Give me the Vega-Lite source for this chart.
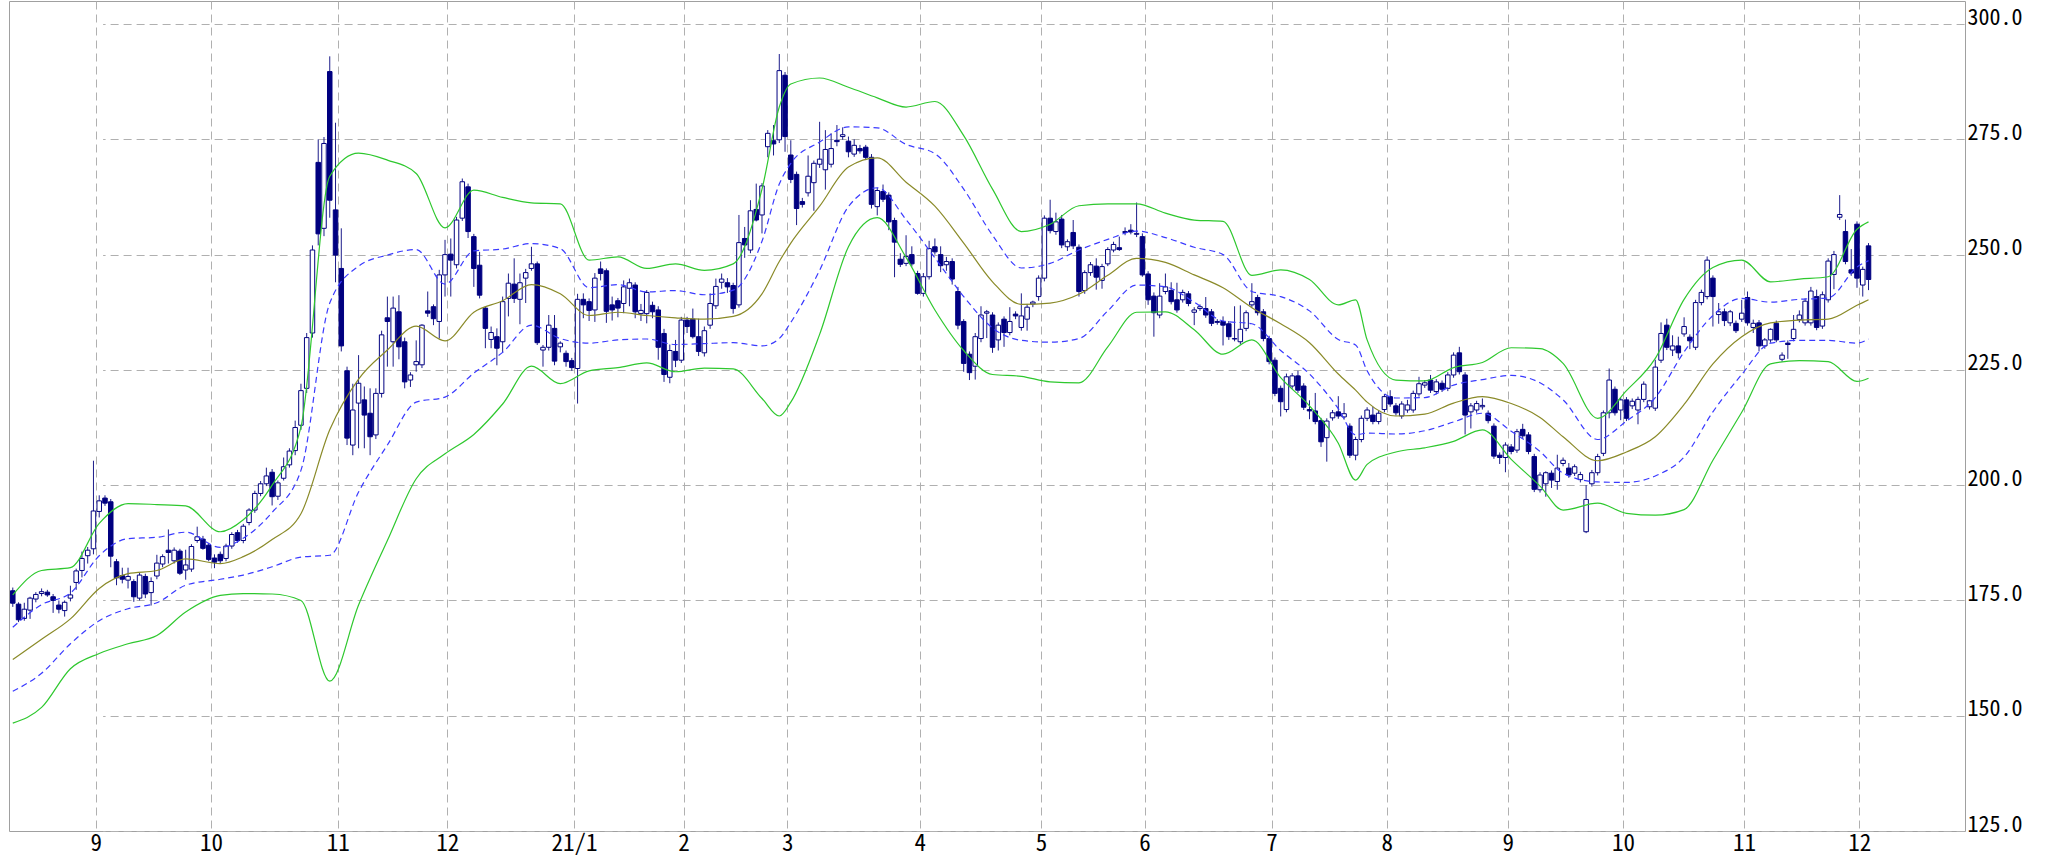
{
"$schema": "https://vega.github.io/schema/vega-lite/v6.json",
"width": 1956, "height": 830,
"autosize": {"type": "none"},
"padding": {"left": 9, "top": 1, "right": 86, "bottom": 26},
"background": "white",
"config": {"view": {"stroke": "#a0a0a0", "strokeWidth": 1}},
"datasets": {
"candles": [
{"d":"2020-08-11","o":177.1,"h":177.8,"l":173.6,"c":174.4},
{"d":"2020-08-12","o":174.2,"h":174.6,"l":170.3,"c":170.8},
{"d":"2020-08-13","o":171.1,"h":174.5,"l":170.6,"c":173.1},
{"d":"2020-08-14","o":172.9,"h":175.8,"l":171.0,"c":175.5},
{"d":"2020-08-17","o":175.3,"h":176.8,"l":174.6,"c":176.3},
{"d":"2020-08-18","o":176.5,"h":177.6,"l":175.9,"c":176.9},
{"d":"2020-08-19","o":176.8,"h":177.3,"l":175.8,"c":176.2},
{"d":"2020-08-20","o":175.8,"h":176.4,"l":172.3,"c":175.0},
{"d":"2020-08-21","o":174.0,"h":175.0,"l":172.2,"c":173.1},
{"d":"2020-08-24","o":172.8,"h":175.0,"l":171.5,"c":174.6},
{"d":"2020-08-25","o":175.5,"h":178.2,"l":174.8,"c":176.2},
{"d":"2020-08-26","o":178.9,"h":181.9,"l":177.3,"c":181.4},
{"d":"2020-08-27","o":181.5,"h":185.6,"l":180.0,"c":184.1},
{"d":"2020-08-28","o":184.7,"h":186.6,"l":183.0,"c":185.9},
{"d":"2020-08-31","o":186.2,"h":205.3,"l":185.0,"c":194.4},
{"d":"2020-09-01","o":194.3,"h":197.8,"l":193.0,"c":196.6},
{"d":"2020-09-02","o":197.2,"h":197.8,"l":195.5,"c":196.1},
{"d":"2020-09-03","o":196.4,"h":197.0,"l":182.2,"c":184.6},
{"d":"2020-09-04","o":183.4,"h":184.0,"l":178.3,"c":179.9},
{"d":"2020-09-07","o":180.4,"h":182.1,"l":178.7,"c":179.6},
{"d":"2020-09-08","o":179.4,"h":182.1,"l":177.6,"c":180.2},
{"d":"2020-09-09","o":179.1,"h":179.6,"l":174.7,"c":175.8},
{"d":"2020-09-10","o":175.5,"h":181.0,"l":175.0,"c":180.5},
{"d":"2020-09-11","o":180.2,"h":180.8,"l":175.5,"c":176.4},
{"d":"2020-09-14","o":176.7,"h":180.0,"l":173.9,"c":179.1},
{"d":"2020-09-15","o":180.3,"h":184.9,"l":179.6,"c":183.1},
{"d":"2020-09-16","o":182.9,"h":185.0,"l":182.2,"c":184.5},
{"d":"2020-09-17","o":185.9,"h":190.4,"l":183.0,"c":185.4},
{"d":"2020-09-18","o":183.6,"h":186.5,"l":183.0,"c":185.9},
{"d":"2020-09-23","o":185.7,"h":186.2,"l":180.5,"c":180.9},
{"d":"2020-09-24","o":181.6,"h":186.0,"l":179.5,"c":182.7},
{"d":"2020-09-25","o":181.8,"h":187.2,"l":181.2,"c":186.7},
{"d":"2020-09-28","o":188.0,"h":191.0,"l":187.5,"c":188.8},
{"d":"2020-09-29","o":188.3,"h":189.0,"l":186.0,"c":186.3},
{"d":"2020-09-30","o":187.0,"h":187.5,"l":183.5,"c":183.9},
{"d":"2020-10-01","o":184.2,"h":185.0,"l":182.0,"c":183.3},
{"d":"2020-10-02","o":185.0,"h":185.6,"l":183.0,"c":183.6},
{"d":"2020-10-05","o":184.1,"h":187.3,"l":183.5,"c":186.8},
{"d":"2020-10-06","o":186.8,"h":189.8,"l":186.2,"c":189.3},
{"d":"2020-10-07","o":189.7,"h":190.3,"l":187.5,"c":188.0},
{"d":"2020-10-08","o":188.0,"h":191.6,"l":187.4,"c":191.1},
{"d":"2020-10-09","o":191.9,"h":195.0,"l":191.3,"c":194.6},
{"d":"2020-10-12","o":194.6,"h":198.8,"l":194.0,"c":198.2},
{"d":"2020-10-13","o":198.2,"h":200.9,"l":197.6,"c":200.3},
{"d":"2020-10-14","o":200.3,"h":203.8,"l":199.8,"c":202.0},
{"d":"2020-10-15","o":202.8,"h":203.5,"l":195.6,"c":197.5},
{"d":"2020-10-16","o":197.6,"h":201.0,"l":196.8,"c":200.5},
{"d":"2020-10-19","o":201.5,"h":206.0,"l":201.0,"c":204.0},
{"d":"2020-10-20","o":204.4,"h":208.0,"l":203.8,"c":207.4},
{"d":"2020-10-21","o":207.5,"h":214.0,"l":206.5,"c":212.5},
{"d":"2020-10-22","o":213.0,"h":222.0,"l":212.0,"c":220.5},
{"d":"2020-10-23","o":221.0,"h":233.0,"l":220.0,"c":232.0},
{"d":"2020-10-26","o":233.0,"h":252.0,"l":232.0,"c":251.0},
{"d":"2020-10-27","o":270.0,"h":275.0,"l":252.0,"c":254.5},
{"d":"2020-10-28","o":255.7,"h":275.5,"l":254.0,"c":274.1},
{"d":"2020-10-29","o":289.7,"h":293.0,"l":258.0,"c":261.8},
{"d":"2020-10-30","o":259.7,"h":278.6,"l":244.0,"c":249.9},
{"d":"2020-11-02","o":247.0,"h":255.7,"l":229.0,"c":230.2},
{"d":"2020-11-04","o":224.8,"h":225.7,"l":208.7,"c":210.2},
{"d":"2020-11-05","o":208.7,"h":222.0,"l":206.5,"c":216.3},
{"d":"2020-11-06","o":217.8,"h":228.2,"l":208.0,"c":222.1},
{"d":"2020-11-09","o":218.5,"h":221.4,"l":208.0,"c":215.2},
{"d":"2020-11-10","o":215.6,"h":221.0,"l":206.5,"c":210.5},
{"d":"2020-11-11","o":210.9,"h":221.0,"l":210.0,"c":219.9},
{"d":"2020-11-12","o":219.9,"h":233.5,"l":219.0,"c":232.6},
{"d":"2020-11-13","o":236.3,"h":240.9,"l":225.7,"c":235.5},
{"d":"2020-11-16","o":231.1,"h":240.9,"l":225.7,"c":238.4},
{"d":"2020-11-17","o":237.6,"h":241.2,"l":227.3,"c":230.0},
{"d":"2020-11-18","o":231.1,"h":232.0,"l":221.0,"c":222.4},
{"d":"2020-11-19","o":222.8,"h":224.5,"l":221.3,"c":223.9},
{"d":"2020-11-20","o":226.1,"h":231.4,"l":224.6,"c":226.8},
{"d":"2020-11-24","o":226.1,"h":234.9,"l":225.4,"c":234.7},
{"d":"2020-11-25","o":237.8,"h":242.0,"l":236.5,"c":237.3},
{"d":"2020-11-26","o":238.7,"h":239.2,"l":234.7,"c":236.1},
{"d":"2020-11-27","o":235.5,"h":246.7,"l":231.8,"c":245.6},
{"d":"2020-11-30","o":245.6,"h":253.2,"l":240.9,"c":250.0},
{"d":"2020-12-01","o":250.1,"h":253.5,"l":240.9,"c":248.8},
{"d":"2020-12-02","o":247.8,"h":258.2,"l":247.0,"c":257.5},
{"d":"2020-12-03","o":257.9,"h":266.5,"l":257.3,"c":265.8},
{"d":"2020-12-04","o":264.7,"h":265.4,"l":253.6,"c":255.0},
{"d":"2020-12-07","o":253.9,"h":254.5,"l":243.0,"c":247.0},
{"d":"2020-12-08","o":247.7,"h":250.6,"l":240.5,"c":241.2},
{"d":"2020-12-09","o":238.4,"h":238.8,"l":229.7,"c":234.0},
{"d":"2020-12-10","o":231.6,"h":234.4,"l":229.7,"c":233.1},
{"d":"2020-12-11","o":232.2,"h":234.0,"l":226.0,"c":229.7},
{"d":"2020-12-14","o":231.1,"h":240.9,"l":228.8,"c":239.8},
{"d":"2020-12-15","o":240.5,"h":245.9,"l":236.6,"c":243.8},
{"d":"2020-12-16","o":243.6,"h":249.2,"l":239.5,"c":240.5},
{"d":"2020-12-17","o":240.3,"h":245.9,"l":234.9,"c":243.9},
{"d":"2020-12-18","o":244.9,"h":246.9,"l":239.5,"c":246.1},
{"d":"2020-12-21","o":247.0,"h":251.7,"l":246.5,"c":248.0},
{"d":"2020-12-22","o":248.0,"h":248.5,"l":230.4,"c":230.9},
{"d":"2020-12-23","o":229.3,"h":230.4,"l":225.7,"c":229.9},
{"d":"2020-12-24","o":229.9,"h":236.9,"l":229.2,"c":234.7},
{"d":"2020-12-25","o":234.0,"h":236.9,"l":226.0,"c":226.9},
{"d":"2020-12-28","o":230.0,"h":231.2,"l":228.8,"c":230.8},
{"d":"2020-12-29","o":228.6,"h":229.2,"l":225.7,"c":226.8},
{"d":"2020-12-30","o":227.0,"h":227.6,"l":224.8,"c":225.5},
{"d":"2021-01-04","o":225.3,"h":241.5,"l":217.7,"c":240.3},
{"d":"2021-01-05","o":240.3,"h":241.6,"l":236.2,"c":239.1},
{"d":"2021-01-06","o":239.8,"h":240.5,"l":235.6,"c":237.9},
{"d":"2021-01-07","o":238.0,"h":246.0,"l":235.4,"c":244.9},
{"d":"2021-01-08","o":246.9,"h":248.5,"l":244.4,"c":245.9},
{"d":"2021-01-12","o":246.5,"h":247.0,"l":235.2,"c":237.7},
{"d":"2021-01-13","o":239.1,"h":240.9,"l":235.7,"c":238.0},
{"d":"2021-01-14","o":240.0,"h":240.6,"l":236.4,"c":238.4},
{"d":"2021-01-15","o":239.4,"h":244.4,"l":237.3,"c":243.0},
{"d":"2021-01-18","o":242.7,"h":244.8,"l":238.8,"c":243.9},
{"d":"2021-01-19","o":243.4,"h":244.0,"l":236.2,"c":237.6},
{"d":"2021-01-20","o":237.2,"h":239.3,"l":235.6,"c":237.9},
{"d":"2021-01-21","o":237.2,"h":242.3,"l":235.1,"c":241.8},
{"d":"2021-01-22","o":239.0,"h":239.8,"l":236.2,"c":237.6},
{"d":"2021-01-25","o":238.0,"h":238.8,"l":227.2,"c":229.9},
{"d":"2021-01-26","o":232.9,"h":233.9,"l":222.4,"c":224.0},
{"d":"2021-01-27","o":223.4,"h":230.5,"l":222.1,"c":229.2},
{"d":"2021-01-28","o":229.0,"h":231.5,"l":225.6,"c":227.1},
{"d":"2021-01-29","o":227.1,"h":236.5,"l":226.5,"c":235.8},
{"d":"2021-02-01","o":235.8,"h":236.5,"l":233.0,"c":234.4},
{"d":"2021-02-02","o":236.0,"h":238.3,"l":231.8,"c":232.2},
{"d":"2021-02-03","o":232.2,"h":236.1,"l":228.0,"c":229.0},
{"d":"2021-02-04","o":228.7,"h":234.4,"l":227.9,"c":233.5},
{"d":"2021-02-05","o":234.7,"h":241.6,"l":233.9,"c":239.4},
{"d":"2021-02-08","o":238.9,"h":244.8,"l":238.2,"c":243.1},
{"d":"2021-02-09","o":244.0,"h":245.9,"l":242.6,"c":244.7},
{"d":"2021-02-10","o":243.9,"h":244.9,"l":241.7,"c":243.0},
{"d":"2021-02-12","o":243.3,"h":243.9,"l":237.2,"c":238.3},
{"d":"2021-02-15","o":239.1,"h":258.6,"l":238.5,"c":252.6},
{"d":"2021-02-16","o":253.5,"h":256.0,"l":249.3,"c":252.1},
{"d":"2021-02-17","o":251.0,"h":261.8,"l":250.3,"c":259.5},
{"d":"2021-02-18","o":259.8,"h":265.4,"l":257.2,"c":257.5},
{"d":"2021-02-19","o":258.6,"h":265.5,"l":254.6,"c":264.9},
{"d":"2021-02-22","o":273.4,"h":277.0,"l":271.1,"c":276.3},
{"d":"2021-02-24","o":274.7,"h":278.1,"l":271.5,"c":274.0},
{"d":"2021-02-25","o":274.9,"h":293.5,"l":274.2,"c":289.9},
{"d":"2021-02-26","o":288.9,"h":289.6,"l":272.3,"c":275.6},
{"d":"2021-03-01","o":271.6,"h":274.8,"l":265.5,"c":266.3},
{"d":"2021-03-02","o":267.4,"h":268.0,"l":256.4,"c":260.0},
{"d":"2021-03-03","o":261.5,"h":262.3,"l":260.2,"c":260.9},
{"d":"2021-03-04","o":263.4,"h":271.5,"l":262.6,"c":267.0},
{"d":"2021-03-05","o":265.6,"h":270.4,"l":259.5,"c":269.8},
{"d":"2021-03-08","o":269.6,"h":278.8,"l":268.8,"c":270.7},
{"d":"2021-03-09","o":268.4,"h":277.0,"l":264.1,"c":272.8},
{"d":"2021-03-10","o":269.6,"h":276.3,"l":268.9,"c":273.0},
{"d":"2021-03-11","o":274.8,"h":278.1,"l":273.5,"c":274.5},
{"d":"2021-03-12","o":275.6,"h":277.6,"l":274.9,"c":276.0},
{"d":"2021-03-15","o":274.6,"h":275.6,"l":271.1,"c":272.3},
{"d":"2021-03-16","o":271.8,"h":275.0,"l":271.2,"c":273.7},
{"d":"2021-03-17","o":273.0,"h":273.8,"l":271.9,"c":272.5},
{"d":"2021-03-18","o":273.3,"h":273.8,"l":270.5,"c":271.1},
{"d":"2021-03-19","o":271.1,"h":271.8,"l":260.0,"c":260.9},
{"d":"2021-03-22","o":260.4,"h":264.5,"l":258.5,"c":263.9},
{"d":"2021-03-23","o":263.7,"h":265.2,"l":261.4,"c":262.0},
{"d":"2021-03-24","o":262.9,"h":263.5,"l":255.3,"c":257.1},
{"d":"2021-03-25","o":257.4,"h":258.0,"l":245.1,"c":252.7},
{"d":"2021-03-26","o":249.0,"h":250.3,"l":247.3,"c":247.9},
{"d":"2021-03-29","o":248.1,"h":254.2,"l":247.5,"c":249.6},
{"d":"2021-03-30","o":250.0,"h":251.8,"l":247.4,"c":248.0},
{"d":"2021-03-31","o":245.9,"h":246.5,"l":241.3,"c":241.6},
{"d":"2021-04-01","o":241.6,"h":246.0,"l":240.9,"c":245.2},
{"d":"2021-04-02","o":245.2,"h":253.0,"l":244.6,"c":251.3},
{"d":"2021-04-05","o":251.7,"h":253.5,"l":250.0,"c":250.6},
{"d":"2021-04-06","o":250.0,"h":251.8,"l":246.2,"c":247.6},
{"d":"2021-04-07","o":247.8,"h":249.5,"l":246.5,"c":248.5},
{"d":"2021-04-08","o":248.5,"h":249.2,"l":243.5,"c":244.7},
{"d":"2021-04-09","o":242.0,"h":243.0,"l":233.8,"c":234.7},
{"d":"2021-04-12","o":235.5,"h":236.0,"l":224.6,"c":226.4},
{"d":"2021-04-13","o":228.4,"h":229.0,"l":222.8,"c":224.4},
{"d":"2021-04-14","o":225.8,"h":233.0,"l":222.9,"c":232.2},
{"d":"2021-04-15","o":231.8,"h":238.8,"l":231.0,"c":236.9},
{"d":"2021-04-16","o":237.3,"h":238.0,"l":231.9,"c":237.6},
{"d":"2021-04-19","o":236.9,"h":237.5,"l":228.7,"c":229.9},
{"d":"2021-04-20","o":231.5,"h":235.3,"l":229.2,"c":234.7},
{"d":"2021-04-21","o":236.0,"h":236.6,"l":230.0,"c":233.1},
{"d":"2021-04-22","o":233.1,"h":238.6,"l":232.5,"c":235.5},
{"d":"2021-04-23","o":237.1,"h":237.7,"l":236.0,"c":236.7},
{"d":"2021-04-26","o":234.2,"h":241.6,"l":233.5,"c":236.7},
{"d":"2021-04-27","o":236.0,"h":239.3,"l":233.5,"c":238.6},
{"d":"2021-04-28","o":239.3,"h":240.0,"l":238.6,"c":239.7},
{"d":"2021-04-30","o":240.9,"h":245.5,"l":240.0,"c":244.9},
{"d":"2021-05-06","o":244.9,"h":258.5,"l":244.2,"c":257.9},
{"d":"2021-05-07","o":257.9,"h":261.9,"l":254.6,"c":255.2},
{"d":"2021-05-10","o":255.0,"h":259.1,"l":254.3,"c":257.1},
{"d":"2021-05-11","o":257.7,"h":258.6,"l":251.4,"c":252.1},
{"d":"2021-05-12","o":251.7,"h":253.3,"l":250.8,"c":252.8},
{"d":"2021-05-13","o":254.8,"h":257.5,"l":251.2,"c":251.9},
{"d":"2021-05-14","o":251.6,"h":252.2,"l":240.9,"c":242.0},
{"d":"2021-05-17","o":242.2,"h":246.6,"l":241.5,"c":246.1},
{"d":"2021-05-18","o":246.1,"h":248.4,"l":245.4,"c":247.8},
{"d":"2021-05-19","o":247.5,"h":249.2,"l":242.4,"c":245.1},
{"d":"2021-05-20","o":244.4,"h":248.0,"l":242.6,"c":247.4},
{"d":"2021-05-21","o":248.0,"h":251.6,"l":247.5,"c":251.1},
{"d":"2021-05-24","o":251.0,"h":252.8,"l":250.5,"c":252.2},
{"d":"2021-05-25","o":251.5,"h":253.9,"l":250.8,"c":251.1},
{"d":"2021-05-26","o":254.8,"h":255.9,"l":254.2,"c":255.0},
{"d":"2021-05-27","o":255.3,"h":256.6,"l":254.4,"c":254.9},
{"d":"2021-05-28","o":254.4,"h":261.3,"l":253.8,"c":254.6},
{"d":"2021-05-31","o":253.9,"h":254.6,"l":245.2,"c":245.6},
{"d":"2021-06-01","o":245.8,"h":246.4,"l":239.1,"c":240.2},
{"d":"2021-06-02","o":241.0,"h":241.8,"l":232.2,"c":237.4},
{"d":"2021-06-03","o":236.9,"h":243.8,"l":236.2,"c":241.0},
{"d":"2021-06-04","o":242.0,"h":245.9,"l":241.4,"c":243.0},
{"d":"2021-06-07","o":242.2,"h":244.0,"l":239.2,"c":239.8},
{"d":"2021-06-08","o":240.2,"h":243.9,"l":237.4,"c":238.0},
{"d":"2021-06-09","o":240.2,"h":242.4,"l":239.6,"c":241.8},
{"d":"2021-06-10","o":241.5,"h":242.1,"l":238.8,"c":239.4},
{"d":"2021-06-11","o":237.5,"h":238.6,"l":234.7,"c":238.0},
{"d":"2021-06-14","o":238.3,"h":239.2,"l":237.8,"c":238.7},
{"d":"2021-06-15","o":238.3,"h":240.8,"l":236.3,"c":236.9},
{"d":"2021-06-16","o":237.6,"h":238.2,"l":234.5,"c":235.1},
{"d":"2021-06-17","o":235.3,"h":236.0,"l":234.8,"c":235.5},
{"d":"2021-06-18","o":235.5,"h":236.6,"l":230.3,"c":234.7},
{"d":"2021-06-21","o":235.0,"h":235.6,"l":231.5,"c":232.2},
{"d":"2021-06-22","o":231.7,"h":238.8,"l":231.2,"c":231.8},
{"d":"2021-06-23","o":231.1,"h":239.0,"l":230.5,"c":233.8},
{"d":"2021-06-24","o":234.0,"h":237.9,"l":233.4,"c":237.4},
{"d":"2021-06-25","o":239.1,"h":243.8,"l":238.5,"c":239.8},
{"d":"2021-06-28","o":240.7,"h":241.3,"l":236.8,"c":237.4},
{"d":"2021-06-29","o":237.6,"h":238.2,"l":231.2,"c":231.8},
{"d":"2021-06-30","o":231.8,"h":232.4,"l":226.2,"c":226.8},
{"d":"2021-07-01","o":227.1,"h":227.7,"l":219.3,"c":219.9},
{"d":"2021-07-02","o":221.0,"h":221.6,"l":214.9,"c":218.1},
{"d":"2021-07-05","o":216.4,"h":224.2,"l":215.8,"c":223.5},
{"d":"2021-07-06","o":221.5,"h":224.3,"l":220.9,"c":223.7},
{"d":"2021-07-07","o":223.7,"h":224.8,"l":220.0,"c":220.6},
{"d":"2021-07-08","o":221.5,"h":222.1,"l":216.3,"c":216.9},
{"d":"2021-07-09","o":216.4,"h":218.4,"l":214.3,"c":216.1},
{"d":"2021-07-12","o":216.1,"h":220.0,"l":213.2,"c":213.8},
{"d":"2021-07-13","o":214.0,"h":214.6,"l":208.3,"c":209.4},
{"d":"2021-07-14","o":210.3,"h":214.5,"l":205.1,"c":213.9},
{"d":"2021-07-15","o":214.6,"h":216.3,"l":214.0,"c":215.7},
{"d":"2021-07-16","o":215.9,"h":219.3,"l":214.4,"c":215.0},
{"d":"2021-07-19","o":214.8,"h":217.8,"l":214.2,"c":215.5},
{"d":"2021-07-20","o":212.8,"h":213.4,"l":205.9,"c":206.5},
{"d":"2021-07-21","o":206.5,"h":210.5,"l":205.4,"c":209.9},
{"d":"2021-07-26","o":209.9,"h":215.1,"l":209.3,"c":214.5},
{"d":"2021-07-27","o":214.5,"h":216.9,"l":213.9,"c":216.3},
{"d":"2021-07-28","o":215.2,"h":217.0,"l":213.2,"c":213.8},
{"d":"2021-07-29","o":213.8,"h":216.2,"l":213.2,"c":215.6},
{"d":"2021-07-30","o":216.4,"h":219.8,"l":215.8,"c":219.2},
{"d":"2021-08-02","o":219.2,"h":220.6,"l":217.0,"c":217.6},
{"d":"2021-08-03","o":217.2,"h":217.8,"l":215.1,"c":215.7},
{"d":"2021-08-04","o":215.0,"h":218.2,"l":214.4,"c":217.6},
{"d":"2021-08-05","o":216.3,"h":218.5,"l":215.7,"c":217.4},
{"d":"2021-08-06","o":216.3,"h":220.5,"l":215.7,"c":219.9},
{"d":"2021-08-10","o":219.8,"h":223.5,"l":219.2,"c":222.0},
{"d":"2021-08-11","o":221.7,"h":222.8,"l":221.1,"c":222.2},
{"d":"2021-08-12","o":222.8,"h":223.9,"l":220.0,"c":220.6},
{"d":"2021-08-13","o":220.3,"h":223.0,"l":219.7,"c":222.4},
{"d":"2021-08-16","o":222.1,"h":222.7,"l":220.2,"c":220.8},
{"d":"2021-08-17","o":221.0,"h":224.5,"l":220.4,"c":223.9},
{"d":"2021-08-18","o":223.9,"h":228.8,"l":223.3,"c":228.2},
{"d":"2021-08-19","o":228.7,"h":230.0,"l":224.0,"c":224.6},
{"d":"2021-08-20","o":223.9,"h":224.5,"l":211.0,"c":215.2},
{"d":"2021-08-23","o":215.9,"h":217.8,"l":212.3,"c":217.2},
{"d":"2021-08-24","o":216.3,"h":218.3,"l":215.7,"c":217.7},
{"d":"2021-08-25","o":217.0,"h":218.8,"l":216.4,"c":217.3},
{"d":"2021-08-26","o":215.6,"h":216.2,"l":213.4,"c":214.0},
{"d":"2021-08-27","o":212.8,"h":213.4,"l":205.7,"c":206.3},
{"d":"2021-08-30","o":206.5,"h":207.1,"l":204.6,"c":206.0},
{"d":"2021-08-31","o":206.0,"h":209.3,"l":202.8,"c":208.7},
{"d":"2021-09-01","o":208.3,"h":208.9,"l":206.7,"c":207.3},
{"d":"2021-09-02","o":207.6,"h":212.2,"l":207.0,"c":211.6},
{"d":"2021-09-03","o":212.1,"h":213.3,"l":210.1,"c":210.7},
{"d":"2021-09-06","o":210.9,"h":211.5,"l":206.7,"c":207.3},
{"d":"2021-09-07","o":206.2,"h":206.8,"l":198.5,"c":199.1},
{"d":"2021-09-08","o":199.0,"h":202.8,"l":198.4,"c":202.2},
{"d":"2021-09-09","o":200.3,"h":203.0,"l":197.5,"c":202.7},
{"d":"2021-09-10","o":202.6,"h":203.2,"l":199.4,"c":201.1},
{"d":"2021-09-13","o":200.8,"h":206.6,"l":199.0,"c":203.7},
{"d":"2021-09-14","o":204.7,"h":206.0,"l":204.1,"c":205.4},
{"d":"2021-09-15","o":203.7,"h":204.8,"l":201.6,"c":202.2},
{"d":"2021-09-16","o":202.6,"h":204.5,"l":202.0,"c":204.0},
{"d":"2021-09-17","o":201.2,"h":202.9,"l":200.6,"c":202.3},
{"d":"2021-09-21","o":189.9,"h":200.0,"l":189.6,"c":196.9},
{"d":"2021-09-22","o":200.3,"h":203.3,"l":199.7,"c":202.7},
{"d":"2021-09-24","o":202.7,"h":206.8,"l":202.1,"c":206.2},
{"d":"2021-09-27","o":206.9,"h":216.2,"l":206.3,"c":215.7},
{"d":"2021-09-28","o":215.7,"h":225.3,"l":214.5,"c":222.8},
{"d":"2021-09-29","o":220.8,"h":221.4,"l":215.1,"c":215.7},
{"d":"2021-09-30","o":216.3,"h":219.0,"l":214.1,"c":218.5},
{"d":"2021-10-01","o":218.5,"h":219.1,"l":213.9,"c":214.5},
{"d":"2021-10-04","o":217.2,"h":218.8,"l":216.5,"c":218.2},
{"d":"2021-10-05","o":216.3,"h":219.2,"l":213.2,"c":218.6},
{"d":"2021-10-06","o":218.6,"h":222.5,"l":218.0,"c":221.9},
{"d":"2021-10-07","o":217.0,"h":218.5,"l":216.4,"c":218.3},
{"d":"2021-10-08","o":216.7,"h":227.2,"l":216.1,"c":225.6},
{"d":"2021-10-11","o":227.1,"h":235.3,"l":226.5,"c":232.9},
{"d":"2021-10-12","o":234.7,"h":236.1,"l":229.3,"c":229.9},
{"d":"2021-10-13","o":229.3,"h":232.5,"l":228.0,"c":230.2},
{"d":"2021-10-14","o":230.2,"h":232.2,"l":227.5,"c":228.7},
{"d":"2021-10-15","o":232.8,"h":236.4,"l":232.2,"c":234.4},
{"d":"2021-10-18","o":232.1,"h":232.7,"l":229.5,"c":231.3},
{"d":"2021-10-19","o":229.9,"h":240.2,"l":229.3,"c":239.6},
{"d":"2021-10-20","o":239.6,"h":242.4,"l":239.0,"c":241.8},
{"d":"2021-10-21","o":240.9,"h":249.6,"l":240.3,"c":248.8},
{"d":"2021-10-22","o":244.9,"h":245.5,"l":234.4,"c":240.9},
{"d":"2021-10-25","o":237.0,"h":239.5,"l":235.0,"c":237.6},
{"d":"2021-10-26","o":237.6,"h":238.3,"l":234.5,"c":235.7},
{"d":"2021-10-27","o":235.2,"h":238.0,"l":234.5,"c":237.6},
{"d":"2021-10-28","o":235.1,"h":235.7,"l":233.0,"c":233.5},
{"d":"2021-10-29","o":236.0,"h":240.2,"l":235.4,"c":237.3},
{"d":"2021-11-01","o":240.7,"h":242.0,"l":234.6,"c":235.2},
{"d":"2021-11-02","o":234.2,"h":235.9,"l":233.0,"c":235.1},
{"d":"2021-11-04","o":235.2,"h":235.8,"l":229.0,"c":230.2},
{"d":"2021-11-05","o":230.2,"h":231.9,"l":229.6,"c":231.5},
{"d":"2021-11-08","o":231.5,"h":234.0,"l":230.9,"c":233.8},
{"d":"2021-11-09","o":235.1,"h":235.7,"l":231.0,"c":231.5},
{"d":"2021-11-10","o":227.3,"h":228.8,"l":226.8,"c":228.2},
{"d":"2021-11-11","o":230.8,"h":231.4,"l":227.4,"c":230.5},
{"d":"2021-11-12","o":231.8,"h":236.9,"l":231.2,"c":233.8},
{"d":"2021-11-15","o":235.9,"h":237.9,"l":235.3,"c":236.9},
{"d":"2021-11-16","o":235.2,"h":240.5,"l":234.6,"c":239.9},
{"d":"2021-11-17","o":235.2,"h":243.0,"l":234.6,"c":242.1},
{"d":"2021-11-18","o":240.9,"h":242.4,"l":233.6,"c":234.2},
{"d":"2021-11-19","o":234.5,"h":242.0,"l":233.9,"c":241.3},
{"d":"2021-11-22","o":240.2,"h":249.2,"l":239.6,"c":248.6},
{"d":"2021-11-24","o":245.7,"h":250.8,"l":242.5,"c":250.0},
{"d":"2021-11-25","o":258.1,"h":262.9,"l":257.5,"c":258.7},
{"d":"2021-11-26","o":255.0,"h":257.6,"l":247.9,"c":248.5},
{"d":"2021-11-29","o":246.7,"h":251.2,"l":245.4,"c":246.0},
{"d":"2021-11-30","o":256.6,"h":257.2,"l":242.8,"c":244.9},
{"d":"2021-12-01","o":243.4,"h":247.4,"l":240.9,"c":246.8},
{"d":"2021-12-02","o":251.9,"h":252.5,"l":242.3,"c":244.6}
],
"bands": [
{"d":"2020-08-11","m":162.2,"u1":169.2,"l1":155.3,"u2":176.2,"l2":148.4},
{"d":"2020-08-18","m":166.6,"u1":174.1,"l1":159.2,"u2":181.5,"l2":151.8},
{"d":"2020-08-25","m":171.0,"u1":176.6,"l1":165.6,"u2":182.1,"l2":160.2},
{"d":"2020-09-01","m":177.6,"u1":184.7,"l1":170.6,"u2":191.7,"l2":163.5},
{"d":"2020-09-08","m":180.8,"u1":188.4,"l1":173.2,"u2":196.0,"l2":165.6},
{"d":"2020-09-15","m":181.5,"u1":188.7,"l1":174.5,"u2":195.8,"l2":167.4},
{"d":"2020-09-24","m":184.0,"u1":189.8,"l1":178.3,"u2":195.5,"l2":172.5},
{"d":"2020-10-02","m":183.0,"u1":186.5,"l1":179.6,"u2":189.9,"l2":176.1},
{"d":"2020-10-08","m":184.5,"u1":188.5,"l1":180.5,"u2":192.5,"l2":176.5},
{"d":"2020-10-15","m":188.2,"u1":194.1,"l1":182.3,"u2":200.0,"l2":176.4},
{"d":"2020-10-22","m":193.8,"u1":203.2,"l1":184.4,"u2":212.6,"l2":175.0},
{"d":"2020-10-29","m":212.0,"u1":239.5,"l1":184.8,"u2":267.0,"l2":157.5},
{"d":"2020-11-06","m":223.0,"u1":247.5,"l1":198.5,"u2":272.0,"l2":174.0},
{"d":"2020-11-13","m":229.3,"u1":249.9,"l1":208.7,"u2":270.5,"l2":188.0},
{"d":"2020-11-20","m":234.5,"u1":251.1,"l1":218.0,"u2":267.6,"l2":201.4},
{"d":"2020-11-30","m":231.3,"u1":243.6,"l1":219.1,"u2":255.8,"l2":206.8},
{"d":"2020-12-07","m":237.5,"u1":250.8,"l1":224.3,"u2":264.0,"l2":211.0},
{"d":"2020-12-14","m":240.0,"u1":251.2,"l1":228.8,"u2":262.4,"l2":217.6},
{"d":"2020-12-21","m":243.5,"u1":252.4,"l1":234.7,"u2":261.2,"l2":225.8},
{"d":"2020-12-28","m":241.5,"u1":251.3,"l1":231.8,"u2":261.0,"l2":222.0},
{"d":"2021-01-06","m":236.8,"u1":242.8,"l1":230.8,"u2":248.8,"l2":224.8},
{"d":"2021-01-14","m":237.5,"u1":243.5,"l1":231.5,"u2":249.5,"l2":225.5},
{"d":"2021-01-21","m":236.8,"u1":241.9,"l1":231.7,"u2":247.0,"l2":226.5},
{"d":"2021-01-28","m":236.3,"u1":242.2,"l1":230.5,"u2":248.0,"l2":224.6},
{"d":"2021-02-04","m":236.0,"u1":241.3,"l1":230.7,"u2":246.6,"l2":225.4},
{"d":"2021-02-12","m":236.6,"u1":242.3,"l1":230.9,"u2":248.0,"l2":225.2},
{"d":"2021-02-19","m":241.5,"u1":252.9,"l1":230.2,"u2":264.2,"l2":218.8},
{"d":"2021-02-25","m":248.5,"u1":265.3,"l1":231.8,"u2":282.0,"l2":215.0},
{"d":"2021-03-01","m":252.5,"u1":269.8,"l1":235.3,"u2":287.0,"l2":218.0},
{"d":"2021-03-08","m":260.5,"u1":274.4,"l1":246.6,"u2":288.3,"l2":232.7},
{"d":"2021-03-15","m":269.0,"u1":277.7,"l1":260.4,"u2":286.3,"l2":251.7},
{"d":"2021-03-22","m":271.0,"u1":277.5,"l1":264.5,"u2":284.0,"l2":258.0},
{"d":"2021-03-29","m":265.7,"u1":273.9,"l1":257.6,"u2":282.0,"l2":249.4},
{"d":"2021-04-05","m":260.5,"u1":271.9,"l1":249.3,"u2":283.2,"l2":238.0},
{"d":"2021-04-12","m":252.5,"u1":264.2,"l1":240.9,"u2":275.8,"l2":229.2},
{"d":"2021-04-19","m":244.1,"u1":254.2,"l1":234.1,"u2":264.2,"l2":224.0},
{"d":"2021-04-26","m":239.2,"u1":247.1,"l1":231.4,"u2":255.0,"l2":223.6},
{"d":"2021-05-07","m":239.5,"u1":248.1,"l1":231.0,"u2":256.6,"l2":222.4},
{"d":"2021-05-14","m":241.4,"u1":251.0,"l1":231.8,"u2":260.6,"l2":222.2},
{"d":"2021-05-21","m":245.5,"u1":253.3,"l1":237.8,"u2":261.0,"l2":230.0},
{"d":"2021-05-28","m":249.2,"u1":255.1,"l1":243.4,"u2":261.0,"l2":237.5},
{"d":"2021-06-04","m":248.3,"u1":253.7,"l1":243.0,"u2":259.0,"l2":237.6},
{"d":"2021-06-11","m":245.6,"u1":251.6,"l1":239.7,"u2":257.5,"l2":233.7},
{"d":"2021-06-18","m":242.8,"u1":250.0,"l1":235.6,"u2":257.2,"l2":228.4},
{"d":"2021-06-25","m":238.5,"u1":242.0,"l1":235.0,"u2":245.5,"l2":231.5},
{"d":"2021-07-02","m":235.0,"u1":240.9,"l1":229.2,"u2":246.7,"l2":223.3},
{"d":"2021-07-09","m":230.9,"u1":237.8,"l1":224.1,"u2":244.6,"l2":217.2},
{"d":"2021-07-16","m":224.1,"u1":231.6,"l1":216.6,"u2":239.1,"l2":209.1},
{"d":"2021-07-21","m":220.6,"u1":230.4,"l1":210.9,"u2":240.2,"l2":201.1},
{"d":"2021-07-27","m":218.0,"u1":224.8,"l1":211.3,"u2":231.5,"l2":204.5},
{"d":"2021-08-03","m":215.0,"u1":218.9,"l1":211.1,"u2":222.8,"l2":207.2},
{"d":"2021-08-11","m":215.4,"u1":219.0,"l1":211.8,"u2":222.6,"l2":208.1},
{"d":"2021-08-18","m":217.8,"u1":221.7,"l1":213.7,"u2":225.5,"l2":209.5},
{"d":"2021-08-25","m":219.2,"u1":222.9,"l1":215.6,"u2":226.6,"l2":212.0},
{"d":"2021-09-01","m":217.7,"u1":223.8,"l1":211.7,"u2":229.8,"l2":205.6},
{"d":"2021-09-08","m":214.7,"u1":222.2,"l1":207.3,"u2":229.6,"l2":199.8},
{"d":"2021-09-14","m":210.5,"u1":218.5,"l1":202.6,"u2":226.4,"l2":194.6},
{"d":"2021-09-24","m":205.3,"u1":209.9,"l1":200.7,"u2":214.5,"l2":196.1},
{"d":"2021-10-01","m":207.2,"u1":213.9,"l1":200.6,"u2":220.5,"l2":193.9},
{"d":"2021-10-08","m":210.5,"u1":219.0,"l1":202.0,"u2":227.5,"l2":193.5},
{"d":"2021-10-15","m":217.5,"u1":228.9,"l1":206.1,"u2":240.3,"l2":194.7},
{"d":"2021-10-22","m":226.3,"u1":236.8,"l1":215.9,"u2":247.2,"l2":205.4},
{"d":"2021-10-29","m":232.2,"u1":240.5,"l1":224.0,"u2":248.8,"l2":215.8},
{"d":"2021-11-08","m":235.2,"u1":239.7,"l1":230.8,"u2":244.1,"l2":226.3},
{"d":"2021-11-15","m":235.8,"u1":240.3,"l1":231.4,"u2":244.7,"l2":227.0},
{"d":"2021-11-22","m":236.0,"u1":240.6,"l1":231.4,"u2":245.2,"l2":226.8},
{"d":"2021-11-30","m":239.0,"u1":247.3,"l1":230.8,"u2":255.5,"l2":222.5},
{"d":"2021-12-02","m":240.2,"u1":248.7,"l1":231.7,"u2":257.1,"l2":223.2}
]
},
"encoding": {
"x": {"field": "d", "type": "ordinal", "sort": "ascending",
 "scale": {"type": "band", "paddingInner": 0, "paddingOuter": 0, "range": [0.9, 1862.4], "round": false},
 "axis": {"title": null, "values": ["2020-09-01","2020-10-01","2020-11-02","2020-12-01","2021-01-04","2021-02-01","2021-03-01","2021-04-01","2021-05-06","2021-06-01","2021-07-01","2021-08-02","2021-09-01","2021-10-01","2021-11-01","2021-12-01"],
  "labelExpr": "datum.value == '2021-01-04' ? '21/1' : '' + toNumber(slice(datum.value, 5, 7))",
  "labelAngle": 0, "labelFont": "Noto Sans Mono CJK JP, Noto Sans CJK JP, sans-serif", "labelFontSize": 23, "labelColor": "#000000",
  "labelPadding": 1, "labelOffset": -3, "labelOverlap": false, "labelBaseline": "top",
  "domain": false, "ticks": false, "grid": true, "gridColor": "#b0b0b0", "gridDash": [8, 5], "gridWidth": 1, "bandPosition": 0}},
"y": {"type": "quantitative", "scale": {"domain": [125, 305], "nice": false, "zero": false},
   "axis": {"title": null, "orient": "right", "values": [125,150,175,200,225,250,275,300], "format": ".1f",
    "labelFont": "Noto Sans Mono CJK JP, Noto Sans CJK JP, sans-serif", "labelFontSize": 22, "labelColor": "#000000",
    "labelBaseline": "alphabetic", "labelAlign": "left", "labelPadding": 2, "labelFlush": false, "labelOverlap": false,
    "domain": false, "ticks": false, "grid": true, "gridColor": "#b0b0b0", "gridDash": [8, 5], "gridWidth": 1}}
},
"layer": [
{"data": {"name": "candles"}, "mark": {"type": "rule", "color": "#1c1c8a", "strokeWidth": 1},
 "encoding": {"y": {"field": "l", "type": "quantitative", "title": null}, "y2": {"field": "h"}}},
{"data": {"name": "candles"}, "mark": {"type": "bar", "width": 4.5, "stroke": "#000080", "strokeWidth": 1},
 "encoding": {"y": {"field": "o", "type": "quantitative", "title": null}, "y2": {"field": "c"},
  "fill": {"condition": {"test": "datum.c < datum.o", "value": "#000080"}, "value": "#ffffff"}}},
{"data": {"name": "bands"}, "mark": {"type": "line", "color": "#2ec82e", "strokeWidth": 1.2, "interpolate": "monotone"},
 "encoding": {"y": {"field": "u2", "type": "quantitative", "title": null}}},
{"data": {"name": "bands"}, "mark": {"type": "line", "color": "#2ec82e", "strokeWidth": 1.2, "interpolate": "monotone"},
 "encoding": {"y": {"field": "l2", "type": "quantitative", "title": null}}},
{"data": {"name": "bands"}, "mark": {"type": "line", "color": "#3a3aff", "strokeWidth": 1.2, "strokeDash": [6, 4], "interpolate": "monotone"},
 "encoding": {"y": {"field": "u1", "type": "quantitative", "title": null}}},
{"data": {"name": "bands"}, "mark": {"type": "line", "color": "#3a3aff", "strokeWidth": 1.2, "strokeDash": [6, 4], "interpolate": "monotone"},
 "encoding": {"y": {"field": "l1", "type": "quantitative", "title": null}}},
{"data": {"name": "bands"}, "mark": {"type": "line", "color": "#8a8a28", "strokeWidth": 1.2, "interpolate": "monotone"},
 "encoding": {"y": {"field": "m", "type": "quantitative", "title": null}}}
]
}
